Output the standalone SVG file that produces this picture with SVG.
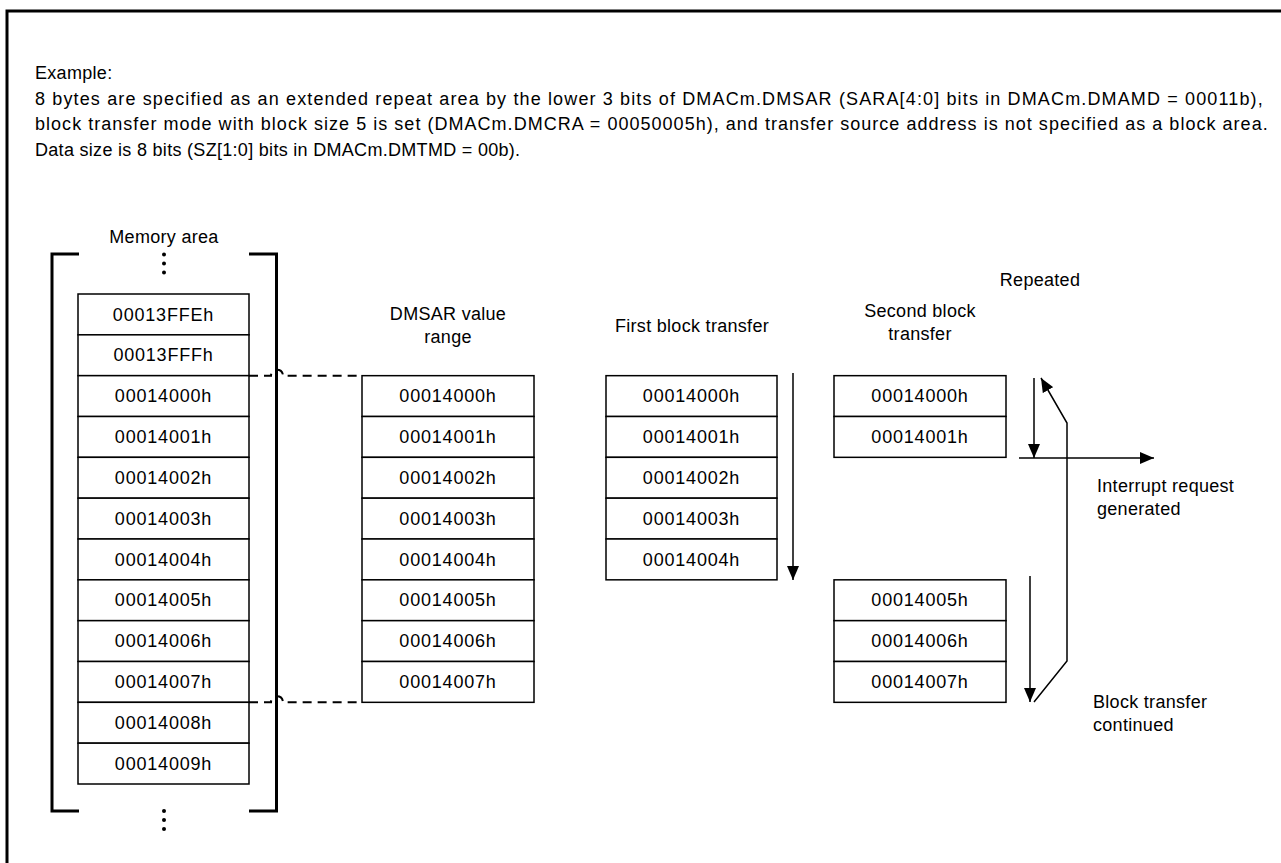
<svg xmlns="http://www.w3.org/2000/svg" width="1281" height="863" viewBox="0 0 1281 863">
<defs>
<style>
text{font-family:"Liberation Sans",Arial,sans-serif;font-size:18px;fill:#000;letter-spacing:0.3px}
.c{text-anchor:middle}
.hx{letter-spacing:0.8px}
.cell{fill:#fff;stroke:#000;stroke-width:1.5}
.ln{fill:none;stroke:#000;stroke-width:1.5}
.br{fill:none;stroke:#000;stroke-width:3}
.dash{fill:none;stroke:#000;stroke-width:2;stroke-dasharray:9 6}
</style>
<marker id="ah" viewBox="0 0 14 12" refX="14" refY="6" markerWidth="14" markerHeight="12" markerUnits="userSpaceOnUse" orient="auto">
<path d="M0,0 L14,6 L0,12 Z" fill="#000"/>
</marker>
</defs>
<rect width="1281" height="863" fill="#fff"/>
<path d="M7,863 V11 H1281" fill="none" stroke="#000" stroke-width="3"/>

<g id="description">
<text x="35" y="79">Example:</text>
<text x="35" y="104.5" textLength="1228" lengthAdjust="spacing">8 bytes are specified as an extended repeat area by the lower 3 bits of DMACm.DMSAR (SARA[4:0] bits in DMACm.DMAMD = 00011b),</text>
<text x="35" y="130" textLength="1233" lengthAdjust="spacing">block transfer mode with block size 5 is set (DMACm.DMCRA = 00050005h), and transfer source address is not specified as a block area.</text>
<text x="35" y="155.5">Data size is 8 bits (SZ[1:0] bits in DMACm.DMTMD = 00b).</text>
</g>

<g id="memory-area">
<text class="c" x="164" y="243">Memory area</text>
<path class="br" d="M79,254 H52 V811 H79"/>
<path class="br" d="M249,254 H276.5 V811 H249"/>
<circle cx="164" cy="254.5" r="2"/><circle cx="164" cy="263.5" r="2"/><circle cx="164" cy="272.5" r="2"/>
<circle cx="164" cy="811" r="2"/><circle cx="164" cy="820" r="2"/><circle cx="164" cy="829" r="2"/>
<rect class="cell" x="78" y="294" width="171" height="40.83"/><text class="c hx" x="163.5" y="320.5">00013FFEh</text>
<rect class="cell" x="78" y="334.83" width="171" height="40.83"/><text class="c hx" x="163.5" y="361.3">00013FFFh</text>
<rect class="cell" x="78" y="375.67" width="171" height="40.83"/><text class="c hx" x="163.5" y="402.2">00014000h</text>
<rect class="cell" x="78" y="416.5" width="171" height="40.83"/><text class="c hx" x="163.5" y="443">00014001h</text>
<rect class="cell" x="78" y="457.33" width="171" height="40.83"/><text class="c hx" x="163.5" y="483.8">00014002h</text>
<rect class="cell" x="78" y="498.17" width="171" height="40.83"/><text class="c hx" x="163.5" y="524.7">00014003h</text>
<rect class="cell" x="78" y="539" width="171" height="40.83"/><text class="c hx" x="163.5" y="565.5">00014004h</text>
<rect class="cell" x="78" y="579.83" width="171" height="40.83"/><text class="c hx" x="163.5" y="606.3">00014005h</text>
<rect class="cell" x="78" y="620.67" width="171" height="40.83"/><text class="c hx" x="163.5" y="647.2">00014006h</text>
<rect class="cell" x="78" y="661.5" width="171" height="40.83"/><text class="c hx" x="163.5" y="688">00014007h</text>
<rect class="cell" x="78" y="702.33" width="171" height="40.83"/><text class="c hx" x="163.5" y="728.8">00014008h</text>
<rect class="cell" x="78" y="743.17" width="171" height="40.83"/><text class="c hx" x="163.5" y="769.7">00014009h</text>
</g>

<g id="dmsar-range">
<text class="c" x="448" y="320">DMSAR value</text>
<text class="c" x="448" y="343">range</text>
<rect class="cell" x="362" y="375.67" width="172" height="40.83"/><text class="c hx" x="448" y="402.2">00014000h</text>
<rect class="cell" x="362" y="416.5" width="172" height="40.83"/><text class="c hx" x="448" y="443">00014001h</text>
<rect class="cell" x="362" y="457.33" width="172" height="40.83"/><text class="c hx" x="448" y="483.8">00014002h</text>
<rect class="cell" x="362" y="498.17" width="172" height="40.83"/><text class="c hx" x="448" y="524.7">00014003h</text>
<rect class="cell" x="362" y="539" width="172" height="40.83"/><text class="c hx" x="448" y="565.5">00014004h</text>
<rect class="cell" x="362" y="579.83" width="172" height="40.83"/><text class="c hx" x="448" y="606.3">00014005h</text>
<rect class="cell" x="362" y="620.67" width="172" height="40.83"/><text class="c hx" x="448" y="647.2">00014006h</text>
<rect class="cell" x="362" y="661.5" width="172" height="40.83"/><text class="c hx" x="448" y="688">00014007h</text>
</g>

<g id="first-block">
<text class="c" x="692" y="332">First block transfer</text>
<rect class="cell" x="606" y="375.67" width="171" height="40.83"/><text class="c hx" x="691.5" y="402.2">00014000h</text>
<rect class="cell" x="606" y="416.5" width="171" height="40.83"/><text class="c hx" x="691.5" y="443">00014001h</text>
<rect class="cell" x="606" y="457.33" width="171" height="40.83"/><text class="c hx" x="691.5" y="483.8">00014002h</text>
<rect class="cell" x="606" y="498.17" width="171" height="40.83"/><text class="c hx" x="691.5" y="524.7">00014003h</text>
<rect class="cell" x="606" y="539" width="171" height="40.83"/><text class="c hx" x="691.5" y="565.5">00014004h</text>
</g>

<g id="second-block">
<text class="c" x="920" y="317">Second block</text>
<text class="c" x="920" y="340">transfer</text>
<rect class="cell" x="834" y="375.67" width="172" height="40.83"/><text class="c hx" x="920" y="402.2">00014000h</text>
<rect class="cell" x="834" y="416.5" width="172" height="40.83"/><text class="c hx" x="920" y="443">00014001h</text>
<rect class="cell" x="834" y="579.83" width="172" height="40.83"/><text class="c hx" x="920" y="606.3">00014005h</text>
<rect class="cell" x="834" y="620.67" width="172" height="40.83"/><text class="c hx" x="920" y="647.2">00014006h</text>
<rect class="cell" x="834" y="661.5" width="172" height="40.83"/><text class="c hx" x="920" y="688">00014007h</text>
</g>

<g id="labels">
<text class="c" x="1040" y="286">Repeated</text>
<text x="1097" y="492">Interrupt request</text>
<text x="1097" y="515">generated</text>
<text x="1093" y="708">Block transfer</text>
<text x="1093" y="731">continued</text>
</g>

<g id="connectors">
<path class="dash" d="M249,375.67 H271 a6,6 0 0 1 12,0 H362"/>
<path class="dash" d="M249,702.33 H271 a6,6 0 0 1 12,0 H362"/>
<line class="ln" x1="793" y1="373" x2="793" y2="580" marker-end="url(#ah)"/>
<line class="ln" x1="1034" y1="378" x2="1034" y2="458" marker-end="url(#ah)"/>
<line class="ln" x1="1019" y1="458" x2="1154" y2="458" marker-end="url(#ah)"/>
<line class="ln" x1="1030" y1="576" x2="1030" y2="702" marker-end="url(#ah)"/>
<path class="ln" d="M1034,702 L1067,661 V423 L1041,378" marker-end="url(#ah)"/>
</g>
</svg>
